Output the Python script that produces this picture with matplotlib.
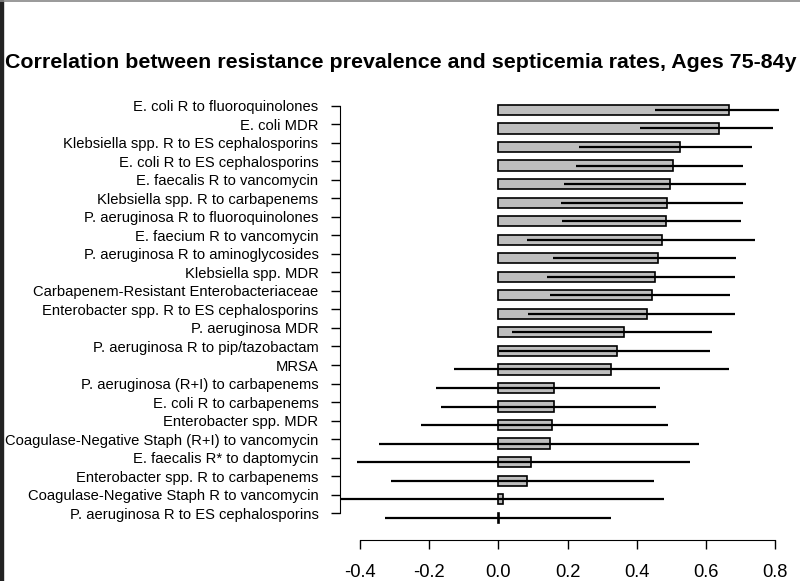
import matplotlib
matplotlib.use("Agg")
import matplotlib.pyplot as plt
from matplotlib.lines import Line2D
from matplotlib.patches import Rectangle

plt.rcParams['font.family'] = ['Liberation Sans', 'DejaVu Sans']

labels = [
    "E. coli R to fluoroquinolones",
    "E. coli MDR",
    "Klebsiella spp. R to ES cephalosporins",
    "E. coli R to ES cephalosporins",
    "E. faecalis R to vancomycin",
    "Klebsiella spp. R to carbapenems",
    "P. aeruginosa R to fluoroquinolones",
    "E. faecium R to vancomycin",
    "P. aeruginosa R to aminoglycosides",
    "Klebsiella spp. MDR",
    "Carbapenem-Resistant Enterobacteriaceae",
    "Enterobacter spp. R to ES cephalosporins",
    "P. aeruginosa MDR",
    "P. aeruginosa R to pip/tazobactam",
    "MRSA",
    "P. aeruginosa (R+I) to carbapenems",
    "E. coli R to carbapenems",
    "Enterobacter spp. MDR",
    "Coagulase-Negative Staph (R+I) to vancomycin",
    "E. faecalis R* to daptomycin",
    "Enterobacter spp. R to carbapenems",
    "Coagulase-Negative Staph R to vancomycin",
    "P. aeruginosa R to ES cephalosporins",
]
corr = [0.667, 0.637, 0.525, 0.504, 0.496, 0.487, 0.484, 0.474, 0.462, 0.452,
        0.444, 0.430, 0.363, 0.342, 0.324, 0.161, 0.161, 0.155, 0.150, 0.094,
        0.082, 0.013, 0.001]
ci_low = [0.452, 0.410, 0.233, 0.225, 0.190, 0.181, 0.185, 0.083, 0.158, 0.142,
          0.148, 0.087, 0.040, 0.003, -0.128, -0.179, -0.165, -0.222, -0.344, -0.409,
          -0.309, -0.470, -0.327]
ci_high = [0.810, 0.792, 0.731, 0.707, 0.714, 0.705, 0.701, 0.740, 0.685, 0.682,
           0.669, 0.683, 0.617, 0.611, 0.666, 0.468, 0.455, 0.489, 0.580, 0.552,
           0.450, 0.477, 0.326]
xticks = [-0.4, -0.2, 0.0, 0.2, 0.4, 0.6, 0.8]

fig = plt.figure(figsize=(8, 5.81), dpi=100)
ax = fig.add_axes([0.425, 0.0706, 0.575, 0.766])

pos = list(range(len(labels)))
ax.barh(pos, corr, height=0.55, color="#bebebe", edgecolor="black", linewidth=1.2)
ax.hlines(pos, ci_low, ci_high, color="black", linewidth=1.6)

ax.set_xlim(-0.457, 0.871)
ax.set_ylim(23.2, -0.81)

# R puts the name ticks a bit above the bar centres
tick_pos = [p - 0.24 for p in pos]
ax.set_yticks(tick_pos)
ax.set_yticklabels(labels, fontsize=10.6)
ax.set_xticks(xticks)
ax.set_xticklabels(["%.1f" % t for t in xticks], fontsize=13.2)
ax.tick_params(axis="y", length=6.5, width=1, pad=9)
ax.tick_params(axis="x", length=6.5, width=1, pad=10.5)

ax.spines["top"].set_visible(False)
ax.spines["right"].set_visible(False)
ax.spines["left"].set_bounds(tick_pos[0], tick_pos[-1])
ax.spines["bottom"].set_bounds(xticks[0], xticks[-1])

fig.text(0.006, 0.893, "Correlation between resistance prevalence and septicemia rates, Ages 75-84y",
         fontsize=15.4, fontweight="bold", ha="left", va="center")

# screenshot frame
fig.add_artist(Line2D([0, 1], [0.999, 0.999], color="#888888", linewidth=1.2))
fig.add_artist(Rectangle((0, 0), 0.004, 1, color="#222222"))

fig.savefig("out.png", dpi=100)
